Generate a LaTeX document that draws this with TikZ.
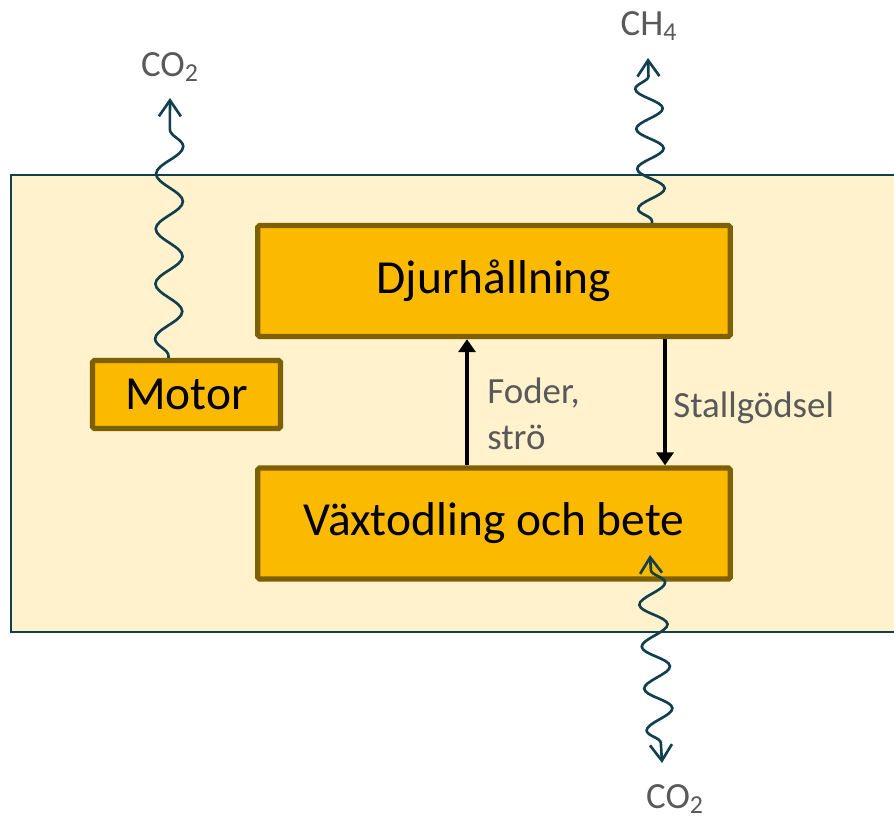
\documentclass[tikz,border=0pt]{standalone}
\usepackage{fontspec}
\setmainfont{Carlito}
\usetikzlibrary{arrows.meta,decorations.pathmorphing}
\begin{document}
\begin{tikzpicture}[
  unit/.style={draw=boxline,fill=boxfill,line width=3pt,rounded corners=1pt,
    font=\fontsize{27}{32}\selectfont,inner sep=0pt},
  flow/.style={-{Triangle[length=0.26cm,width=0.34cm]},line width=2.8pt,black},
  gas/.style={draw=wave,line width=1.5pt,decorate,
    decoration={snake,amplitude=0.27cm,segment length=#1,pre length=1pt,post length=0.3cm}},
  gastip/.tip={Straight Barb[length=0.32cm,width=0.44cm]},
  gaslabel/.style={text=labelgray,font=\fontsize{21}{25}\selectfont,inner sep=0pt,anchor=base},
  flowlabel/.style={text=labelgray,font=\fontsize{21}{26}\selectfont,inner sep=0pt}]
\definecolor{boxfill}{HTML}{FBBA00}
\definecolor{boxline}{HTML}{7F6000}
\definecolor{farmbg}{HTML}{FFF2CC}
\definecolor{wave}{HTML}{113F4F}
\definecolor{labelgray}{HTML}{595959}
\useasboundingbox (0,0) rectangle (17.88,-16.36);
% the farm
\draw[fill=farmbg,draw=wave,line width=1.4pt] (0.22,-3.5) rectangle (18.6,-12.64);
\node[unit,minimum width=9.45cm,minimum height=2.22cm] (djur) at (9.88,-5.62) {Djurhållning};
\node[unit,minimum width=9.45cm,minimum height=2.22cm] (vaxt) at (9.88,-10.47) {Växtodling och bete};
\node[unit,minimum width=3.76cm,minimum height=1.36cm] (motor) at (3.73,-7.89) {Motor};
% flows between the two parts
\draw[flow] ([xshift=-0.54cm]vaxt.north) -- ([xshift=-0.54cm]djur.south);
\draw[flow] ([xshift=3.42cm]djur.south) -- ([xshift=3.42cm]vaxt.north);
\node[flowlabel,anchor=north west,align=left] (foder) at (9.74,-7.55) {Foder,\\strö};
\node[flowlabel,anchor=base west] (godsel) at (13.46,-8.34) {Stallgödsel};
% gases
\coordinate (co2up) at (3.40,-1.96);
\coordinate (ch4up) at (12.96,-1.16);
\coordinate (co2in) at (13.0,-11.1);
\coordinate (co2out) at (13.24,-15.26);
\node[gaslabel] (co2a) at (3.40,-1.52) {CO\textsubscript{2}};
\node[gaslabel] (ch4) at (12.98,-0.70) {CH\textsubscript{4}};
\node[gaslabel] (co2b) at (13.5,-16.16) {CO\textsubscript{2}};
\draw[gas=1.1cm,-gastip] ([xshift=-0.36cm]motor.north) -- (co2up);
\draw[gas=0.8cm,-gastip] ([xshift=3.16cm]djur.north) -- (ch4up);
\draw[gas=0.84cm,gastip-gastip,decoration={pre length=0.3cm}] (co2in) -- (co2out);
\end{tikzpicture}
\end{document}
